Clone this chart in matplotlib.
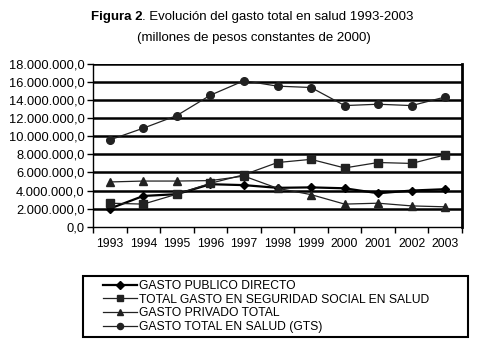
import matplotlib
matplotlib.use('Agg')
import matplotlib.pyplot as plt
from matplotlib.patches import Rectangle
import numpy as np

plt.rcParams['font.family'] = ['Liberation Sans', 'DejaVu Sans']

years = ['1993', '1994', '1995', '1996', '1997', '1998', '1999', '2000', '2001', '2002', '2003']

publico = [2.0, 3.4, 3.6, 4.7, 4.6, 4.3, 4.35, 4.25, 3.7, 4.0, 4.15]
seguridad = [2.6, 2.5, 3.6, 4.8, 5.75, 7.1, 7.45, 6.5, 7.1, 7.0, 7.95]
privado = [4.95, 5.05, 5.05, 5.1, 5.6, 4.25, 3.55, 2.5, 2.6, 2.3, 2.2]
gts = [9.6, 10.9, 12.3, 14.55, 16.15, 15.55, 15.4, 13.4, 13.55, 13.4, 14.35]

labels = ['GASTO PUBLICO DIRECTO',
          'TOTAL GASTO EN SEGURIDAD SOCIAL EN SALUD',
          'GASTO PRIVADO TOTAL',
          'GASTO TOTAL EN SALUD (GTS)']

def fmt(v):
    s = '{:,.1f}'.format(v)
    return s.replace(',', 'X').replace('.', ',').replace('X', '.')

fig = plt.figure(figsize=(4.9, 3.49), dpi=100)
ax = fig.add_axes([93/490, 1-226.7/349, (462-93)/490, (226.7-64)/349])

x = np.arange(len(years))
mil = 1e6
ax.plot(x, np.array(publico)*mil, color='black', lw=1.6, marker='D', ms=4.5, label=labels[0])
ax.plot(x, np.array(seguridad)*mil, color='#222222', lw=0.9, marker='s', ms=6, label=labels[1])
ax.plot(x, np.array(privado)*mil, color='#222222', lw=0.9, marker='^', ms=6, label=labels[2])
ax.plot(x, np.array(gts)*mil, color='#222222', lw=0.9, marker='o', ms=5.5, label=labels[3])

yt = np.arange(0, 18.1e6, 2e6)
ax.set_ylim(0, 18e6)
ax.set_yticks(yt)
ax.set_yticklabels([fmt(v) for v in yt], fontsize=9.3)
for v in yt[1:]:
    ax.axhline(v, color='black', lw=1.8, zorder=0)

ax.set_xlim(-0.5, len(years) - 0.5)
ax.set_xticks(x)
ax.set_xticklabels(years, fontsize=8.8)
ax.tick_params(axis='x', length=0, pad=8)
ax.set_xticks(np.arange(-0.5, len(years)), minor=True)
ax.tick_params(axis='x', which='minor', length=4, width=1, direction='out')
ax.tick_params(axis='y', length=4, width=1, direction='out', pad=2)

ax.spines['top'].set_visible(False)
ax.spines['right'].set_linewidth(2)
ax.spines['left'].set_linewidth(1)
ax.spines['bottom'].set_linewidth(1)

# title: bold part + regular part, centered together
t1 = fig.text(0, 0.951, 'Figura 2', fontsize=9.5, fontweight='bold', ha='left', va='center')
t2 = fig.text(0, 0.951, '. Evolución del gasto total en salud 1993-2003', fontsize=9.5, ha='left', va='center')
fig.canvas.draw()
r = fig.canvas.get_renderer()
w1 = t1.get_window_extent(r).width / fig.bbox.width
w2 = t2.get_window_extent(r).width / fig.bbox.width
x0 = 252/490 - (w1 + w2) / 2
t1.set_x(x0)
t2.set_x(x0 + w1)
fig.text(254/490, 0.891, '(millones de pesos constantes de 2000)', fontsize=9.5, ha='center', va='center')

# legend box
fig.patches.append(Rectangle((83/490, 1-337/349), (468-83)/490, (337-276)/349,
                             transform=fig.transFigure, fill=False, edgecolor='black', lw=1.5))
leg = fig.legend(loc='center left', bbox_to_anchor=(103/490, 1-306.5/349),
                 fontsize=8.7, frameon=False, borderaxespad=0, borderpad=0,
                 handlelength=2.8, handletextpad=0.2, labelspacing=0.14,
                 markerscale=0.8)

fig.savefig('out.png', dpi=100)
